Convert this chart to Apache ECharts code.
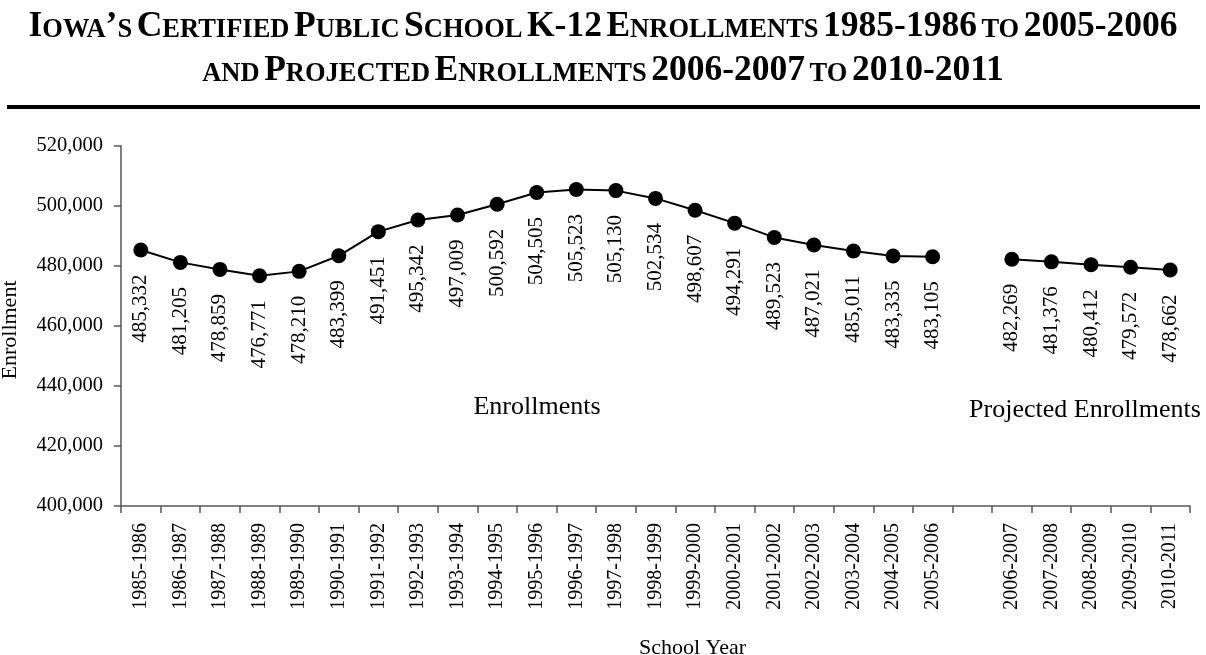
<!DOCTYPE html>
<html>
<head>
<meta charset="utf-8">
<script src="https://cdn.jsdelivr.net/npm/echarts@6/dist/echarts.min.js"></script>
<style>
html,body{margin:0;padding:0;background:#fff;}
#chart{width:1206px;height:655px;}
</style>
</head>
<body>
<div id="chart"></div>
<script>
var categories = ['1985-1986','1986-1987','1987-1988','1988-1989','1989-1990','1990-1991','1991-1992','1992-1993','1993-1994','1994-1995','1995-1996','1996-1997','1997-1998','1998-1999','1999-2000','2000-2001','2001-2002','2002-2003','2003-2004','2004-2005','2005-2006','','2006-2007','2007-2008','2008-2009','2009-2010','2010-2011'];
var enrollments = [485332,481205,478859,476771,478210,483399,491451,495342,497009,500592,504505,505523,505130,502534,498607,494291,489523,487021,485011,483335,483105,null,482269,481376,480412,479572,478662];
var yTicks = {min: 400000, max: 520000, interval: 20000};

var FONT = '"Liberation Serif","Times New Roman",serif';
function fmt(v){ return Number(v).toLocaleString('en-US'); }

var chart = echarts.init(document.getElementById('chart'));
var titleText =
  '{b|I}{s|OWA}{b|’}{s|S} {b|C}{s|ERTIFIED} {b|P}{s|UBLIC} {b|S}{s|CHOOL} {b|K-12} {b|E}{s|NROLLMENTS} {b|1985-1986} {s|TO} {b|2005-2006}\n' +
  '{s|AND} {b|P}{s|ROJECTED} {b|E}{s|NROLLMENTS} {b|2006-2007} {s|TO} {b|2010-2011}';

chart.setOption({
  backgroundColor: '#fff',
  animation: false,
  textStyle: {fontFamily: FONT, color: '#000'},
  title: {
    text: titleText,
    left: 'center',
    top: -4,
    textStyle: {
      fontFamily: FONT,
      fontWeight: 'bold',
      color: '#000',
      lineHeight: 44,
      rich: {
        b: {fontFamily: FONT, fontWeight: 'bold', fontSize: 35.5, color: '#000', verticalAlign: 'bottom', lineHeight: 44},
        s: {fontFamily: FONT, fontWeight: 'bold', fontSize: 26.5, color: '#000', verticalAlign: 'bottom', lineHeight: 44, padding: [0,0,1,0]}
      }
    }
  },
  graphic: [
    {type: 'line', shape: {x1: 7, y1: 107, x2: 1200, y2: 107}, style: {stroke: '#000', lineWidth: 4}},
    {type: 'text', x: 537, y: 407, style: {text: 'Enrollments', font: '26px ' + FONT, fill: '#000', textAlign: 'center', textVerticalAlign: 'middle'}},
    {type: 'text', x: 1085, y: 410, style: {text: 'Projected Enrollments', font: '26px ' + FONT, fill: '#000', textAlign: 'center', textVerticalAlign: 'middle'}}
  ],
  grid: {left: 121, right: 16, top: 146, bottom: 149, containLabel: false, outerBoundsMode: 'none'},
  xAxis: {
    type: 'category',
    data: categories,
    boundaryGap: true,
    name: 'School Year',
    nameLocation: 'middle',
    nameGap: 131,
    nameTextStyle: {fontFamily: FONT, fontSize: 22, color: '#000', padding: [0, 0, 0, 74]},
    axisLine: {lineStyle: {color: '#555', width: 1.5}},
    axisTick: {show: true, length: 7, alignWithLabel: false, interval: 0, lineStyle: {color: '#555', width: 1.5}},
    axisLabel: {rotate: 90, interval: 0, margin: 17, fontFamily: FONT, fontSize: 20, color: '#000'},
    splitLine: {show: false}
  },
  yAxis: {
    type: 'value',
    min: yTicks.min,
    max: yTicks.max,
    interval: yTicks.interval,
    name: 'Enrollment',
    nameLocation: 'middle',
    nameRotate: 90,
    nameGap: 100,
    nameTextStyle: {fontFamily: FONT, fontSize: 22, color: '#000', padding: [0, 8, 0, 0]},
    axisLine: {show: true, lineStyle: {color: '#555', width: 1.5}},
    axisTick: {show: true, length: 7, lineStyle: {color: '#555', width: 1.5}},
    axisLabel: {margin: 18, fontFamily: FONT, fontSize: 20.5, color: '#000', formatter: fmt},
    splitLine: {show: false}
  },
  series: [{
    type: 'line',
    data: enrollments,
    connectNulls: false,
    symbol: 'circle',
    symbolSize: 15,
    showAllSymbol: true,
    itemStyle: {color: '#000'},
    lineStyle: {color: '#000', width: 2},
    label: {
      show: true,
      position: 'bottom',
      distance: 17,
      rotate: 90,
      align: 'right',
      verticalAlign: 'middle',
      fontFamily: FONT,
      fontSize: 21,
      color: '#000',
      formatter: function(p){ return fmt(p.value); }
    }
  }]
});
</script>
</body>
</html>
